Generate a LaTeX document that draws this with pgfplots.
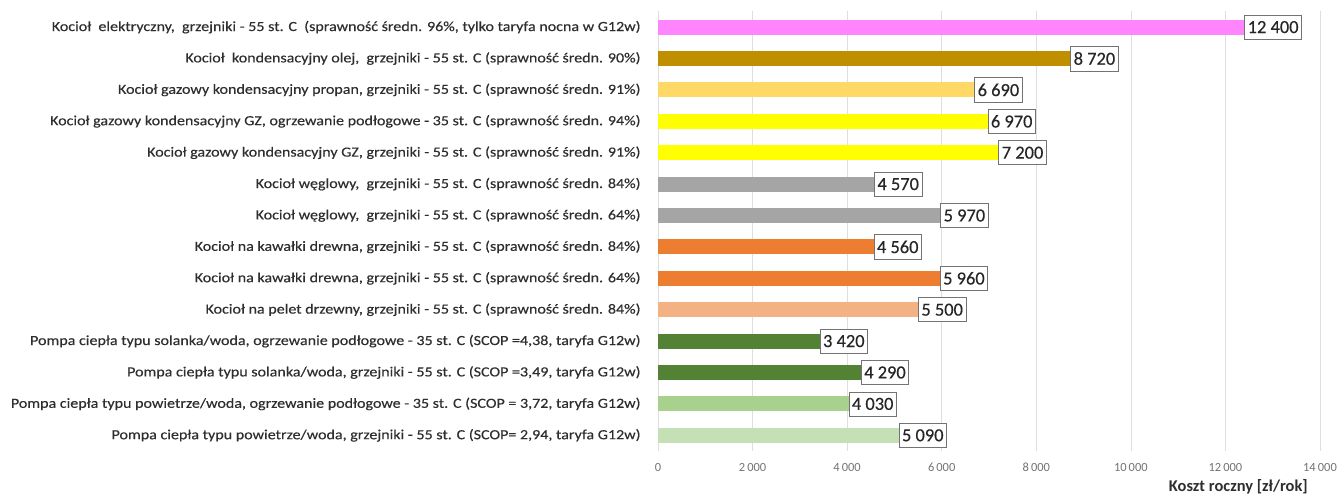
\documentclass[border=0pt]{standalone}
\usepackage{fontspec}
\setmainfont{Carlito}
\newfontfamily\labfont{Carlito}[FakeStretch=1.15,FakeBold=0.35]
\newfontfamily\valfont{Carlito}[FakeBold=0.3]
\usepackage{pgfplots}
\pgfplotsset{compat=1.18}
\definecolor{cPink}{HTML}{FF85FF}
\definecolor{cGold}{HTML}{BF8F00}
\definecolor{cLtOr}{HTML}{FFD966}
\definecolor{cYel}{HTML}{FFFF00}
\definecolor{cGrey}{HTML}{A5A5A5}
\definecolor{cOr}{HTML}{ED7D31}
\definecolor{cPeach}{HTML}{F4B183}
\definecolor{cDkGr}{HTML}{548235}
\definecolor{cGr}{HTML}{A9D18E}
\definecolor{cLtGr}{HTML}{C5E0B4}
\definecolor{cText}{HTML}{2E2E2E}
\begin{document}
\begin{tikzpicture}
\useasboundingbox (-658bp,-47bp) rectangle (683bp,451bp);
\begin{axis}[
  at={(0,0)}, anchor=south west,
  scale only axis, width=662bp, height=439.6bp,
  xbar, bar width=15bp,
  every axis plot/.append style={bar shift=0pt, draw=none},
  xmin=0, xmax=14000, ymin=-0.5, ymax=13.5, y dir=reverse,
  ytick={0,...,13},
  yticklabels={
    {Kocioł\ \ elektryczny,\ \ grzejniki - 55 st. C\ \ (sprawność średn. 96\%, tylko taryfa nocna w G12w)},
    {Kocioł\ \ kondensacyjny olej,\ \ grzejniki - 55 st. C (sprawność średn. 90\%)},
    {Kocioł gazowy kondensacyjny propan, grzejniki - 55 st. C (sprawność średn. 91\%)},
    {Kocioł gazowy kondensacyjny GZ, ogrzewanie podłogowe - 35 st. C (sprawność średn. 94\%)},
    {Kocioł gazowy kondensacyjny GZ, grzejniki - 55 st. C (sprawność średn. 91\%)},
    {Kocioł węglowy,\ \ grzejniki - 55 st. C (sprawność średn. 84\%)},
    {Kocioł węglowy,\ \ grzejniki - 55 st. C (sprawność średn. 64\%)},
    {Kocioł na kawałki drewna, grzejniki - 55 st. C (sprawność średn. 84\%)},
    {Kocioł na kawałki drewna, grzejniki - 55 st. C (sprawność średn. 64\%)},
    {Kocioł na pelet drzewny, grzejniki - 55 st. C (sprawność średn. 84\%)},
    {Pompa ciepła typu solanka/woda, ogrzewanie podłogowe - 35 st. C (SCOP =4,38, taryfa G12w)},
    {Pompa ciepła typu solanka/woda, grzejniki - 55 st. C (SCOP =3,49, taryfa G12w)},
    {Pompa ciepła typu powietrze/woda, ogrzewanie podłogowe - 35 st. C (SCOP = 3,72, taryfa G12w)},
    {Pompa ciepła typu powietrze/woda, grzejniki - 55 st. C (SCOP= 2,94, taryfa G12w)}
  },
  yticklabel style={anchor=east, inner sep=0pt, xshift=-13bp, text=cText, font=\labfont\fontsize{14}{15}\selectfont},
  xtick={0,2000,...,14000},
  scaled x ticks=false,
  xticklabel style={anchor=center, inner sep=0pt, yshift=-16bp, text=black!55, font=\fontsize{12.5}{13}\selectfont},
  /pgf/number format/1000 sep={\,},
  /pgf/number format/assume math mode=true,
  axis line style={draw=none}, tick style={draw=none},
  xmajorgrids, grid style={color=black!13, line width=0.7bp},
  xlabel={Koszt roczny [zł/rok]},
  xlabel style={at={(axis description cs:1,0)}, anchor=east, inner sep=0pt, xshift=-12bp, yshift=-36bp, text=cText, font=\bfseries\fontsize{16.5}{17}\selectfont},
  nodes near coords,
  nodes near coords align={horizontal},
  every node near coord/.append style={draw=black!55, fill=white, anchor=west, inner xsep=3bp, inner ysep=6bp, line width=0.7bp, text=black!85, font=\valfont\fontsize{18.5}{19}\selectfont, /pgf/number format/1000 sep={\ }},
]
\addplot[fill=cPink]  coordinates {(12400,0)};
\addplot[fill=cGold]  coordinates {(8720,1)};
\addplot[fill=cLtOr]  coordinates {(6690,2)};
\addplot[fill=cYel]   coordinates {(6970,3)};
\addplot[fill=cYel]   coordinates {(7200,4)};
\addplot[fill=cGrey]  coordinates {(4570,5)};
\addplot[fill=cGrey]  coordinates {(5970,6)};
\addplot[fill=cOr]    coordinates {(4560,7)};
\addplot[fill=cOr]    coordinates {(5960,8)};
\addplot[fill=cPeach] coordinates {(5500,9)};
\addplot[fill=cDkGr]  coordinates {(3420,10)};
\addplot[fill=cDkGr]  coordinates {(4290,11)};
\addplot[fill=cGr]    coordinates {(4030,12)};
\addplot[fill=cLtGr]  coordinates {(5090,13)};
\end{axis}
\end{tikzpicture}
\end{document}
